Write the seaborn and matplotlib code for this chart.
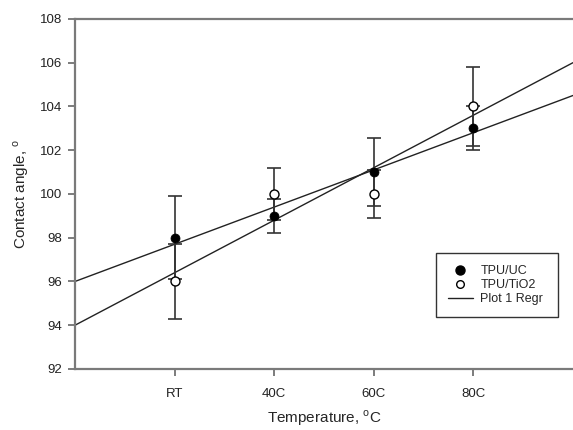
import numpy as np
import pandas as pd
import matplotlib
matplotlib.use("Agg")
import matplotlib.pyplot as plt
import seaborn as sns
from matplotlib.lines import Line2D

# data
temps = ["RT", "40C", "60C", "80C"]
xpos = [1, 2, 3, 4]
uc_mean = [98.0, 99.0, 101.0, 103.0]
uc_err = [1.9, 0.78, 1.55, 1.0]
tio2_mean = [96.0, 100.0, 100.0, 104.0]
tio2_err = [1.7, 1.2, 1.1, 1.8]

sns.set_style("white")
plt.rcParams['font.family'] = ['Liberation Sans', 'DejaVu Sans']
plt.rcParams['mathtext.fontset'] = 'custom'
plt.rcParams['mathtext.rm'] = 'Liberation Sans'

df = pd.DataFrame({
    "x": xpos * 2,
    "y": uc_mean + tio2_mean,
    "err": uc_err + tio2_err,
    "sample": ["TPU/UC"] * 4 + ["TPU/TiO2"] * 4,
})

fig = plt.figure(figsize=(5.73, 4.30), dpi=100)
ax = fig.add_axes([0.131, 0.142, 0.869, 0.814])

# regression lines over the full x range
xfit = np.linspace(0, 5, 50)
for s in ["TPU/UC", "TPU/TiO2"]:
    sub = df[df["sample"] == s]
    k, b = np.polyfit(sub["x"], sub["y"], 1)
    sns.lineplot(x=xfit, y=k * xfit + b, color="#222222", lw=1.0, ax=ax, zorder=2)

# error bars
ax.errorbar(df["x"], df["y"], yerr=df["err"], fmt="none", ecolor="#333333",
            elinewidth=1.2, capsize=5, capthick=1.2, zorder=3)

# markers
sub = df[df["sample"] == "TPU/UC"]
sns.scatterplot(x=sub["x"], y=sub["y"], color="black", edgecolor="black",
                s=42, marker="o", ax=ax, zorder=4, legend=False)
sub = df[df["sample"] == "TPU/TiO2"]
sns.scatterplot(x=sub["x"], y=sub["y"], color="white", edgecolor="black",
                linewidth=1.0, s=42, marker="o", ax=ax, zorder=4, legend=False)

ax.set_xlim(0, 5)
ax.set_ylim(92, 108)
ax.set_xticks(xpos)
ax.set_xticklabels(temps)
ax.set_yticks(np.arange(92, 109, 2))
ax.tick_params(axis="both", direction="out", length=5, width=1.2, color="#666666",
               labelsize=9.5, colors="#222222", pad=4)
ax.tick_params(axis="x", pad=9)
ax.xaxis.set_ticks_position("bottom")
ax.yaxis.set_ticks_position("left")
for side in ["left", "bottom", "top"]:
    ax.spines[side].set_color("#7a7a7a")
    ax.spines[side].set_linewidth(1.6)
ax.spines["right"].set_visible(False)

ax.set_xlabel("Temperature, $^{\\mathrm{o}}$C", fontsize=11, labelpad=6)
ax.set_ylabel("Contact angle, $^{\\mathrm{o}}$", fontsize=11, labelpad=7)

handles = [
    Line2D([], [], marker="o", color="black", ls="none", markersize=6.5),
    Line2D([], [], marker="o", markerfacecolor="white", markeredgecolor="black",
           ls="none", markersize=5.5),
    Line2D([], [], color="#222222", lw=1.0),
]
leg = ax.legend(handles, ["TPU/UC", "TPU/TiO2", "Plot 1 Regr"],
                loc="lower left", bbox_to_anchor=(0.712, 0.131, 0.27, 0.2),
                mode="expand", fontsize=9, frameon=True, fancybox=False,
                handlelength=2.0, borderpad=0.95, labelspacing=0.15, handletextpad=0.6)
leg.get_frame().set_edgecolor("black")
leg.get_frame().set_linewidth(1.0)

fig.savefig("out.png", dpi=100)
